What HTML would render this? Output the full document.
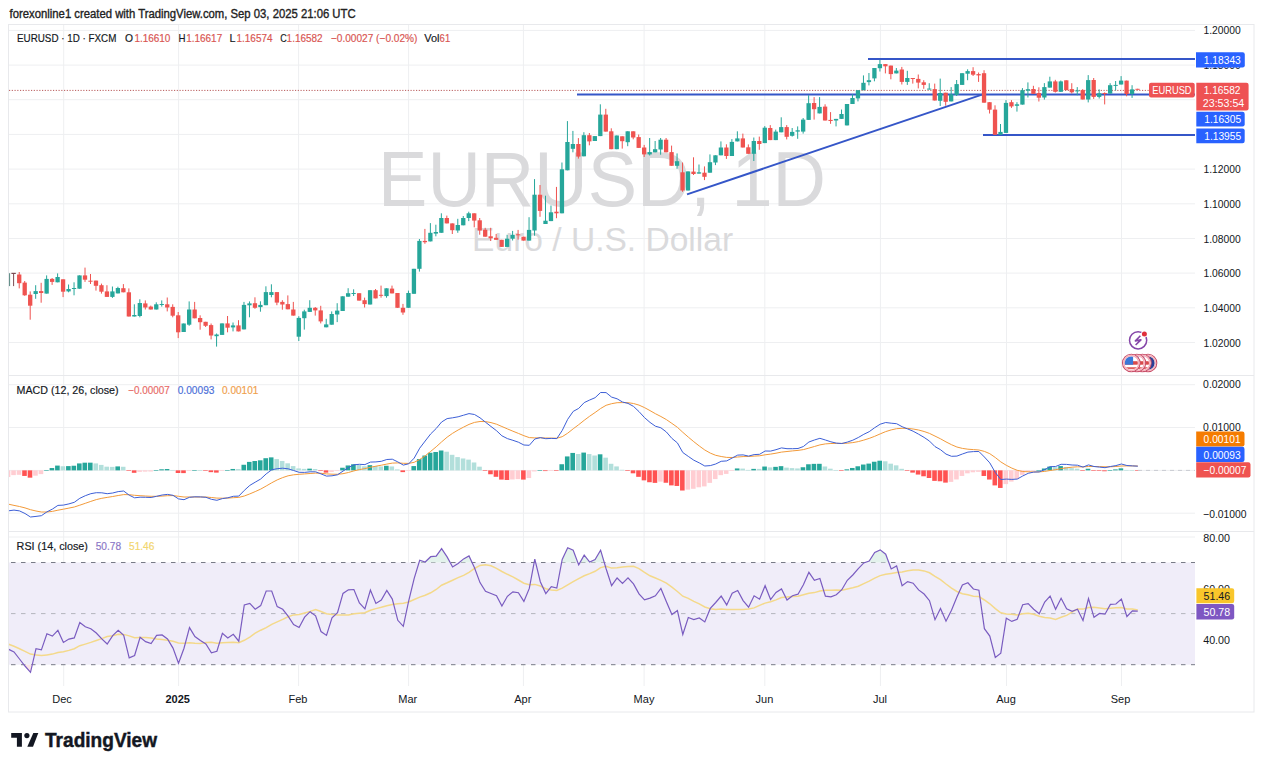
<!DOCTYPE html><html><head><meta charset="utf-8"><title>EURUSD 1D TradingView</title><style>html,body{margin:0;padding:0;background:#fff;overflow:hidden}svg{display:block}</style></head><body>
<svg width="1263" height="768" viewBox="0 0 1263 768" font-family='"Liberation Sans", Arial, sans-serif'>
<rect width="1263" height="768" fill="#ffffff"/>
<defs><clipPath id="cp"><rect x="9" y="24.5" width="1186" height="351.0"/></clipPath>
<clipPath id="cm"><rect x="9" y="375.5" width="1186" height="156.0"/></clipPath>
<clipPath id="cr"><rect x="9" y="531.5" width="1186" height="154.5"/></clipPath></defs>
<line x1="63.7" y1="24.5" x2="63.7" y2="686" stroke="#eeeff1" stroke-width="1"/><line x1="178.6" y1="24.5" x2="178.6" y2="686" stroke="#eeeff1" stroke-width="1"/><line x1="298.6" y1="24.5" x2="298.6" y2="686" stroke="#eeeff1" stroke-width="1"/><line x1="408.6" y1="24.5" x2="408.6" y2="686" stroke="#eeeff1" stroke-width="1"/><line x1="523.4" y1="24.5" x2="523.4" y2="686" stroke="#eeeff1" stroke-width="1"/><line x1="644.1" y1="24.5" x2="644.1" y2="686" stroke="#eeeff1" stroke-width="1"/><line x1="764.8" y1="24.5" x2="764.8" y2="686" stroke="#eeeff1" stroke-width="1"/><line x1="880.4" y1="24.5" x2="880.4" y2="686" stroke="#eeeff1" stroke-width="1"/><line x1="1006.5" y1="24.5" x2="1006.5" y2="686" stroke="#eeeff1" stroke-width="1"/><line x1="1121.5" y1="24.5" x2="1121.5" y2="686" stroke="#eeeff1" stroke-width="1"/><line x1="9" y1="342.5" x2="1195" y2="342.5" stroke="#eeeff1" stroke-width="1"/><line x1="9" y1="307.8" x2="1195" y2="307.8" stroke="#eeeff1" stroke-width="1"/><line x1="9" y1="273.1" x2="1195" y2="273.1" stroke="#eeeff1" stroke-width="1"/><line x1="9" y1="238.5" x2="1195" y2="238.5" stroke="#eeeff1" stroke-width="1"/><line x1="9" y1="203.8" x2="1195" y2="203.8" stroke="#eeeff1" stroke-width="1"/><line x1="9" y1="169.1" x2="1195" y2="169.1" stroke="#eeeff1" stroke-width="1"/><line x1="9" y1="134.4" x2="1195" y2="134.4" stroke="#eeeff1" stroke-width="1"/><line x1="9" y1="99.7" x2="1195" y2="99.7" stroke="#eeeff1" stroke-width="1"/><line x1="9" y1="65.1" x2="1195" y2="65.1" stroke="#eeeff1" stroke-width="1"/><line x1="9" y1="30.4" x2="1195" y2="30.4" stroke="#eeeff1" stroke-width="1"/><line x1="9" y1="384.7" x2="1195" y2="384.7" stroke="#eeeff1" stroke-width="1"/><line x1="9" y1="427.5" x2="1195" y2="427.5" stroke="#eeeff1" stroke-width="1"/><line x1="9" y1="470.4" x2="1195" y2="470.4" stroke="#eeeff1" stroke-width="1"/><line x1="9" y1="513.2" x2="1195" y2="513.2" stroke="#eeeff1" stroke-width="1"/><line x1="9" y1="537.0" x2="1195" y2="537.0" stroke="#eeeff1" stroke-width="1"/><line x1="9" y1="588.1" x2="1195" y2="588.1" stroke="#eeeff1" stroke-width="1"/><line x1="9" y1="639.1" x2="1195" y2="639.1" stroke="#eeeff1" stroke-width="1"/>
<text x="602.05" y="205.5" text-anchor="middle" font-size="77.2" fill="#dadadc" textLength="447.9" lengthAdjust="spacingAndGlyphs">EURUSD, 1D</text>
<text x="602.6" y="250.6" text-anchor="middle" font-size="32.5" fill="#dadadc" textLength="261" lengthAdjust="spacingAndGlyphs">Euro / U.S. Dollar</text>
<line x1="9" y1="90.4" x2="1149" y2="90.4" stroke="#b85a5a" stroke-width="1" stroke-dasharray="1.2 1.55"/>
<line x1="868" y1="59.0" x2="1195" y2="59.0" stroke="#3556c8" stroke-width="2"/>
<line x1="577" y1="94.4" x2="1195" y2="94.4" stroke="#3556c8" stroke-width="2"/>
<line x1="983" y1="135.0" x2="1195" y2="135.0" stroke="#3556c8" stroke-width="2"/>
<line x1="687" y1="194.4" x2="982" y2="94.6" stroke="#3556c8" stroke-width="2"/>
<g clip-path="url(#cp)"><rect x="9.1" y="273.2" width="1" height="12.9" fill="#56857f"/><rect x="11.4" y="272.8" width="4.4" height="1.2" fill="#7c4a52"/><rect x="13.1" y="273.2" width="1" height="12.9" fill="#7c4a52"/><rect x="18.72" y="272.0" width="1" height="16.4" fill="#ef5350"/><rect x="17.07" y="274.5" width="4.3" height="8.7" fill="#ef5350"/><rect x="24.20" y="281.0" width="1" height="14.8" fill="#ef5350"/><rect x="22.55" y="282.6" width="4.3" height="12.7" fill="#ef5350"/><rect x="29.69" y="291.4" width="1" height="28.3" fill="#ef5350"/><rect x="28.04" y="294.7" width="4.3" height="11.0" fill="#ef5350"/><rect x="35.17" y="285.2" width="1" height="13.6" fill="#26a69a"/><rect x="33.52" y="291.1" width="4.3" height="2.9" fill="#26a69a"/><rect x="40.65" y="282.8" width="1" height="19.9" fill="#ef5350"/><rect x="39.00" y="291.1" width="4.3" height="1.9" fill="#ef5350"/><rect x="46.13" y="275.4" width="1" height="18.2" fill="#26a69a"/><rect x="44.48" y="278.9" width="4.3" height="14.7" fill="#26a69a"/><rect x="51.61" y="278.0" width="1" height="6.9" fill="#ef5350"/><rect x="49.96" y="278.9" width="4.3" height="3.0" fill="#ef5350"/><rect x="57.10" y="273.4" width="1" height="8.9" fill="#26a69a"/><rect x="55.45" y="277.0" width="4.3" height="5.3" fill="#26a69a"/><rect x="62.58" y="279.3" width="1" height="17.8" fill="#ef5350"/><rect x="60.93" y="279.3" width="4.3" height="12.4" fill="#ef5350"/><rect x="68.06" y="284.5" width="1" height="7.8" fill="#26a69a"/><rect x="66.41" y="289.0" width="4.3" height="2.4" fill="#26a69a"/><rect x="73.54" y="282.3" width="1" height="13.0" fill="#26a69a"/><rect x="71.89" y="288.0" width="4.3" height="1.0" fill="#26a69a"/><rect x="79.02" y="275.4" width="1" height="13.3" fill="#26a69a"/><rect x="77.37" y="275.4" width="4.3" height="13.3" fill="#26a69a"/><rect x="84.51" y="267.6" width="1" height="14.3" fill="#ef5350"/><rect x="82.86" y="275.4" width="4.3" height="4.3" fill="#ef5350"/><rect x="89.99" y="274.0" width="1" height="10.0" fill="#ef5350"/><rect x="88.34" y="280.7" width="4.3" height="1.0" fill="#ef5350"/><rect x="95.47" y="280.6" width="1" height="10.0" fill="#ef5350"/><rect x="93.82" y="280.6" width="4.3" height="5.2" fill="#ef5350"/><rect x="100.95" y="283.6" width="1" height="10.0" fill="#ef5350"/><rect x="99.30" y="285.2" width="4.3" height="6.5" fill="#ef5350"/><rect x="106.43" y="285.2" width="1" height="11.7" fill="#ef5350"/><rect x="104.78" y="291.4" width="4.3" height="5.5" fill="#ef5350"/><rect x="111.92" y="286.5" width="1" height="11.4" fill="#26a69a"/><rect x="110.27" y="291.4" width="4.3" height="5.5" fill="#26a69a"/><rect x="117.40" y="286.7" width="1" height="6.7" fill="#26a69a"/><rect x="115.75" y="288.0" width="4.3" height="5.4" fill="#26a69a"/><rect x="122.88" y="284.1" width="1" height="8.2" fill="#ef5350"/><rect x="121.23" y="288.2" width="4.3" height="4.1" fill="#ef5350"/><rect x="128.36" y="288.4" width="1" height="28.1" fill="#ef5350"/><rect x="126.71" y="292.3" width="4.3" height="24.2" fill="#ef5350"/><rect x="133.84" y="304.3" width="1" height="12.2" fill="#26a69a"/><rect x="132.19" y="315.0" width="4.3" height="1.5" fill="#26a69a"/><rect x="139.33" y="299.3" width="1" height="18.0" fill="#26a69a"/><rect x="137.68" y="303.0" width="4.3" height="13.0" fill="#26a69a"/><rect x="144.81" y="300.4" width="1" height="9.1" fill="#ef5350"/><rect x="143.16" y="303.4" width="4.3" height="4.1" fill="#ef5350"/><rect x="150.29" y="305.6" width="1" height="3.9" fill="#ef5350"/><rect x="148.64" y="306.6" width="4.3" height="2.9" fill="#ef5350"/><rect x="155.77" y="302.3" width="1" height="7.2" fill="#26a69a"/><rect x="154.12" y="304.3" width="4.3" height="5.2" fill="#26a69a"/><rect x="161.25" y="300.4" width="1" height="6.2" fill="#26a69a"/><rect x="159.60" y="304.0" width="4.3" height="1.0" fill="#26a69a"/><rect x="166.74" y="297.5" width="1" height="13.9" fill="#ef5350"/><rect x="165.09" y="304.3" width="4.3" height="3.2" fill="#ef5350"/><rect x="172.22" y="304.3" width="1" height="13.0" fill="#ef5350"/><rect x="170.57" y="306.9" width="4.3" height="8.8" fill="#ef5350"/><rect x="177.70" y="312.0" width="1" height="26.1" fill="#ef5350"/><rect x="176.05" y="315.3" width="4.3" height="17.0" fill="#ef5350"/><rect x="183.18" y="323.5" width="1" height="8.5" fill="#26a69a"/><rect x="181.53" y="323.5" width="4.3" height="8.5" fill="#26a69a"/><rect x="188.66" y="301.4" width="1" height="24.4" fill="#26a69a"/><rect x="187.01" y="309.5" width="4.3" height="15.2" fill="#26a69a"/><rect x="194.15" y="301.9" width="1" height="16.4" fill="#ef5350"/><rect x="192.50" y="309.5" width="4.3" height="8.8" fill="#ef5350"/><rect x="199.63" y="315.3" width="1" height="14.4" fill="#ef5350"/><rect x="197.98" y="318.0" width="4.3" height="4.2" fill="#ef5350"/><rect x="205.11" y="321.8" width="1" height="5.2" fill="#ef5350"/><rect x="203.46" y="321.8" width="4.3" height="4.0" fill="#ef5350"/><rect x="210.59" y="323.5" width="1" height="15.9" fill="#ef5350"/><rect x="208.94" y="325.1" width="4.3" height="10.4" fill="#ef5350"/><rect x="216.07" y="333.5" width="1" height="13.1" fill="#26a69a"/><rect x="214.42" y="334.5" width="4.3" height="1.7" fill="#26a69a"/><rect x="221.56" y="323.4" width="1" height="11.5" fill="#26a69a"/><rect x="219.91" y="323.4" width="4.3" height="11.5" fill="#26a69a"/><rect x="227.04" y="316.0" width="1" height="16.3" fill="#ef5350"/><rect x="225.39" y="323.4" width="4.3" height="4.3" fill="#ef5350"/><rect x="232.52" y="322.5" width="1" height="8.9" fill="#26a69a"/><rect x="230.87" y="325.4" width="4.3" height="2.0" fill="#26a69a"/><rect x="238.00" y="320.2" width="1" height="11.2" fill="#ef5350"/><rect x="236.35" y="325.4" width="4.3" height="6.0" fill="#ef5350"/><rect x="243.48" y="301.9" width="1" height="27.5" fill="#26a69a"/><rect x="241.83" y="304.9" width="4.3" height="24.5" fill="#26a69a"/><rect x="248.97" y="301.4" width="1" height="15.9" fill="#26a69a"/><rect x="247.32" y="303.4" width="4.3" height="1.9" fill="#26a69a"/><rect x="254.45" y="297.3" width="1" height="11.5" fill="#ef5350"/><rect x="252.80" y="303.2" width="4.3" height="4.6" fill="#ef5350"/><rect x="259.93" y="301.3" width="1" height="10.4" fill="#26a69a"/><rect x="258.28" y="304.9" width="4.3" height="2.2" fill="#26a69a"/><rect x="265.41" y="286.3" width="1" height="18.9" fill="#26a69a"/><rect x="263.76" y="292.1" width="4.3" height="13.1" fill="#26a69a"/><rect x="270.89" y="284.3" width="1" height="13.0" fill="#26a69a"/><rect x="269.24" y="292.1" width="4.3" height="2.9" fill="#26a69a"/><rect x="276.38" y="292.1" width="1" height="13.1" fill="#ef5350"/><rect x="274.73" y="292.1" width="4.3" height="10.5" fill="#ef5350"/><rect x="281.86" y="300.2" width="1" height="9.5" fill="#ef5350"/><rect x="280.21" y="301.9" width="4.3" height="2.6" fill="#ef5350"/><rect x="287.34" y="295.4" width="1" height="13.9" fill="#ef5350"/><rect x="285.69" y="304.1" width="4.3" height="5.2" fill="#ef5350"/><rect x="292.82" y="301.9" width="1" height="13.7" fill="#ef5350"/><rect x="291.17" y="309.5" width="4.3" height="6.1" fill="#ef5350"/><rect x="298.30" y="316.2" width="1" height="24.8" fill="#26a69a"/><rect x="296.65" y="317.9" width="4.3" height="18.8" fill="#26a69a"/><rect x="303.79" y="309.7" width="1" height="19.9" fill="#26a69a"/><rect x="302.14" y="311.4" width="4.3" height="6.8" fill="#26a69a"/><rect x="309.27" y="300.2" width="1" height="11.7" fill="#26a69a"/><rect x="307.62" y="307.8" width="4.3" height="4.1" fill="#26a69a"/><rect x="314.75" y="307.0" width="1" height="8.6" fill="#ef5350"/><rect x="313.10" y="307.8" width="4.3" height="2.6" fill="#ef5350"/><rect x="320.23" y="305.8" width="1" height="17.6" fill="#ef5350"/><rect x="318.58" y="310.4" width="4.3" height="11.0" fill="#ef5350"/><rect x="325.71" y="318.8" width="1" height="8.5" fill="#26a69a"/><rect x="324.06" y="324.4" width="4.3" height="2.9" fill="#26a69a"/><rect x="331.20" y="311.4" width="1" height="13.3" fill="#26a69a"/><rect x="329.55" y="314.0" width="4.3" height="10.7" fill="#26a69a"/><rect x="336.68" y="303.2" width="1" height="18.9" fill="#26a69a"/><rect x="335.03" y="310.6" width="4.3" height="3.9" fill="#26a69a"/><rect x="342.16" y="296.3" width="1" height="14.7" fill="#26a69a"/><rect x="340.51" y="296.3" width="4.3" height="14.7" fill="#26a69a"/><rect x="347.64" y="288.2" width="1" height="8.5" fill="#26a69a"/><rect x="345.99" y="293.2" width="4.3" height="3.5" fill="#26a69a"/><rect x="353.12" y="289.3" width="1" height="6.7" fill="#26a69a"/><rect x="351.47" y="293.0" width="4.3" height="1.0" fill="#26a69a"/><rect x="358.61" y="293.2" width="1" height="7.4" fill="#ef5350"/><rect x="356.96" y="293.2" width="4.3" height="7.4" fill="#ef5350"/><rect x="364.09" y="297.6" width="1" height="9.9" fill="#ef5350"/><rect x="362.44" y="300.2" width="4.3" height="3.9" fill="#ef5350"/><rect x="369.57" y="290.2" width="1" height="14.3" fill="#26a69a"/><rect x="367.92" y="290.2" width="4.3" height="14.3" fill="#26a69a"/><rect x="375.05" y="289.0" width="1" height="9.4" fill="#ef5350"/><rect x="373.40" y="290.2" width="4.3" height="8.2" fill="#ef5350"/><rect x="380.53" y="285.6" width="1" height="12.1" fill="#ef5350"/><rect x="378.88" y="294.8" width="4.3" height="1.0" fill="#ef5350"/><rect x="386.02" y="288.3" width="1" height="9.4" fill="#26a69a"/><rect x="384.37" y="288.3" width="4.3" height="7.8" fill="#26a69a"/><rect x="391.50" y="285.6" width="1" height="7.8" fill="#ef5350"/><rect x="389.85" y="288.6" width="4.3" height="4.8" fill="#ef5350"/><rect x="396.98" y="293.0" width="1" height="14.8" fill="#ef5350"/><rect x="395.33" y="293.0" width="4.3" height="14.8" fill="#ef5350"/><rect x="402.46" y="303.9" width="1" height="10.9" fill="#ef5350"/><rect x="400.81" y="307.8" width="4.3" height="4.7" fill="#ef5350"/><rect x="407.94" y="290.6" width="1" height="17.2" fill="#26a69a"/><rect x="406.29" y="293.0" width="4.3" height="14.8" fill="#26a69a"/><rect x="413.43" y="268.8" width="1" height="25.0" fill="#26a69a"/><rect x="411.78" y="268.8" width="4.3" height="25.0" fill="#26a69a"/><rect x="418.91" y="239.0" width="1" height="32.6" fill="#26a69a"/><rect x="417.26" y="240.9" width="4.3" height="27.9" fill="#26a69a"/><rect x="424.39" y="228.9" width="1" height="14.9" fill="#ef5350"/><rect x="422.74" y="240.9" width="4.3" height="1.3" fill="#ef5350"/><rect x="429.87" y="223.1" width="1" height="18.3" fill="#26a69a"/><rect x="428.22" y="232.8" width="4.3" height="8.6" fill="#26a69a"/><rect x="435.35" y="224.7" width="1" height="11.6" fill="#26a69a"/><rect x="433.70" y="232.0" width="4.3" height="1.6" fill="#26a69a"/><rect x="440.84" y="213.3" width="1" height="19.5" fill="#26a69a"/><rect x="439.19" y="218.0" width="4.3" height="14.8" fill="#26a69a"/><rect x="446.32" y="215.6" width="1" height="7.8" fill="#ef5350"/><rect x="444.67" y="218.0" width="4.3" height="5.4" fill="#ef5350"/><rect x="451.80" y="223.4" width="1" height="10.6" fill="#ef5350"/><rect x="450.15" y="223.4" width="4.3" height="6.8" fill="#ef5350"/><rect x="457.28" y="218.8" width="1" height="14.0" fill="#26a69a"/><rect x="455.63" y="225.0" width="4.3" height="5.5" fill="#26a69a"/><rect x="462.76" y="216.0" width="1" height="9.3" fill="#26a69a"/><rect x="461.11" y="218.0" width="4.3" height="7.3" fill="#26a69a"/><rect x="468.25" y="211.7" width="1" height="9.4" fill="#26a69a"/><rect x="466.60" y="213.3" width="4.3" height="4.7" fill="#26a69a"/><rect x="473.73" y="213.3" width="1" height="14.0" fill="#ef5350"/><rect x="472.08" y="213.3" width="4.3" height="7.3" fill="#ef5350"/><rect x="479.21" y="218.0" width="1" height="16.7" fill="#ef5350"/><rect x="477.56" y="220.3" width="4.3" height="10.2" fill="#ef5350"/><rect x="484.69" y="227.8" width="1" height="8.9" fill="#ef5350"/><rect x="483.04" y="229.7" width="4.3" height="7.0" fill="#ef5350"/><rect x="490.17" y="227.8" width="1" height="13.2" fill="#ef5350"/><rect x="488.52" y="236.3" width="4.3" height="2.0" fill="#ef5350"/><rect x="495.66" y="234.0" width="1" height="5.8" fill="#ef5350"/><rect x="494.01" y="237.8" width="4.3" height="2.0" fill="#ef5350"/><rect x="501.14" y="239.8" width="1" height="7.1" fill="#ef5350"/><rect x="499.49" y="239.8" width="4.3" height="7.1" fill="#ef5350"/><rect x="506.62" y="234.8" width="1" height="12.1" fill="#26a69a"/><rect x="504.97" y="238.7" width="4.3" height="8.2" fill="#26a69a"/><rect x="512.10" y="230.9" width="1" height="9.6" fill="#26a69a"/><rect x="510.45" y="234.8" width="4.3" height="3.9" fill="#26a69a"/><rect x="517.58" y="229.9" width="1" height="9.7" fill="#ef5350"/><rect x="515.93" y="234.3" width="4.3" height="1.0" fill="#ef5350"/><rect x="523.07" y="236.7" width="1" height="3.9" fill="#ef5350"/><rect x="521.42" y="236.7" width="4.3" height="3.9" fill="#ef5350"/><rect x="528.55" y="217.2" width="1" height="23.4" fill="#26a69a"/><rect x="526.90" y="229.9" width="4.3" height="10.7" fill="#26a69a"/><rect x="534.03" y="179.1" width="1" height="56.6" fill="#26a69a"/><rect x="532.38" y="194.7" width="4.3" height="35.8" fill="#26a69a"/><rect x="539.51" y="185.0" width="1" height="31.8" fill="#ef5350"/><rect x="537.86" y="194.7" width="4.3" height="16.2" fill="#ef5350"/><rect x="544.99" y="195.7" width="1" height="28.3" fill="#26a69a"/><rect x="543.34" y="220.7" width="4.3" height="3.3" fill="#26a69a"/><rect x="550.48" y="205.5" width="1" height="15.6" fill="#26a69a"/><rect x="548.83" y="212.3" width="4.3" height="8.8" fill="#26a69a"/><rect x="555.96" y="186.9" width="1" height="31.3" fill="#ef5350"/><rect x="554.31" y="211.7" width="4.3" height="1.6" fill="#ef5350"/><rect x="561.44" y="162.5" width="1" height="50.8" fill="#26a69a"/><rect x="559.79" y="169.3" width="4.3" height="44.0" fill="#26a69a"/><rect x="566.92" y="121.1" width="1" height="49.2" fill="#26a69a"/><rect x="565.27" y="142.0" width="4.3" height="28.3" fill="#26a69a"/><rect x="572.40" y="130.9" width="1" height="21.4" fill="#26a69a"/><rect x="570.75" y="144.0" width="4.3" height="4.8" fill="#26a69a"/><rect x="577.89" y="138.1" width="1" height="20.5" fill="#ef5350"/><rect x="576.24" y="144.0" width="4.3" height="12.6" fill="#ef5350"/><rect x="583.37" y="132.2" width="1" height="24.1" fill="#26a69a"/><rect x="581.72" y="135.2" width="4.3" height="21.1" fill="#26a69a"/><rect x="588.85" y="133.0" width="1" height="12.3" fill="#ef5350"/><rect x="587.20" y="135.2" width="4.3" height="6.2" fill="#ef5350"/><rect x="594.33" y="136.1" width="1" height="4.9" fill="#26a69a"/><rect x="592.68" y="136.1" width="4.3" height="4.9" fill="#26a69a"/><rect x="599.81" y="104.3" width="1" height="31.8" fill="#26a69a"/><rect x="598.16" y="114.6" width="4.3" height="21.5" fill="#26a69a"/><rect x="605.30" y="108.8" width="1" height="22.8" fill="#ef5350"/><rect x="603.65" y="114.6" width="4.3" height="17.0" fill="#ef5350"/><rect x="610.78" y="128.3" width="1" height="20.9" fill="#ef5350"/><rect x="609.13" y="131.3" width="4.3" height="17.9" fill="#ef5350"/><rect x="616.26" y="135.5" width="1" height="13.7" fill="#26a69a"/><rect x="614.61" y="135.5" width="4.3" height="13.7" fill="#26a69a"/><rect x="621.74" y="136.3" width="1" height="12.3" fill="#ef5350"/><rect x="620.09" y="136.3" width="4.3" height="4.9" fill="#ef5350"/><rect x="627.22" y="131.3" width="1" height="14.9" fill="#26a69a"/><rect x="625.57" y="131.3" width="4.3" height="10.9" fill="#26a69a"/><rect x="632.71" y="131.3" width="1" height="8.0" fill="#ef5350"/><rect x="631.06" y="131.3" width="4.3" height="6.2" fill="#ef5350"/><rect x="638.19" y="134.5" width="1" height="13.4" fill="#ef5350"/><rect x="636.54" y="137.1" width="4.3" height="10.8" fill="#ef5350"/><rect x="643.67" y="144.9" width="1" height="12.1" fill="#ef5350"/><rect x="642.02" y="147.5" width="4.3" height="6.9" fill="#ef5350"/><rect x="649.15" y="138.0" width="1" height="17.5" fill="#26a69a"/><rect x="647.50" y="152.1" width="4.3" height="2.3" fill="#26a69a"/><rect x="654.63" y="141.0" width="1" height="11.3" fill="#26a69a"/><rect x="652.98" y="149.2" width="4.3" height="3.1" fill="#26a69a"/><rect x="660.12" y="138.0" width="1" height="16.7" fill="#26a69a"/><rect x="658.47" y="139.7" width="4.3" height="9.8" fill="#26a69a"/><rect x="665.60" y="138.0" width="1" height="14.3" fill="#ef5350"/><rect x="663.95" y="139.7" width="4.3" height="12.6" fill="#ef5350"/><rect x="671.08" y="145.6" width="1" height="20.2" fill="#ef5350"/><rect x="669.43" y="152.1" width="4.3" height="13.7" fill="#ef5350"/><rect x="676.56" y="153.4" width="1" height="15.4" fill="#26a69a"/><rect x="674.91" y="161.2" width="4.3" height="4.6" fill="#26a69a"/><rect x="682.04" y="162.5" width="1" height="29.3" fill="#ef5350"/><rect x="680.39" y="172.3" width="4.3" height="18.2" fill="#ef5350"/><rect x="687.53" y="171.4" width="1" height="19.1" fill="#26a69a"/><rect x="685.88" y="171.4" width="4.3" height="19.1" fill="#26a69a"/><rect x="693.01" y="157.3" width="1" height="17.7" fill="#ef5350"/><rect x="691.36" y="171.6" width="4.3" height="2.4" fill="#ef5350"/><rect x="698.49" y="164.5" width="1" height="9.1" fill="#26a69a"/><rect x="696.84" y="172.3" width="4.3" height="1.3" fill="#26a69a"/><rect x="703.97" y="166.4" width="1" height="13.7" fill="#ef5350"/><rect x="702.32" y="172.7" width="4.3" height="4.1" fill="#ef5350"/><rect x="709.45" y="154.4" width="1" height="18.3" fill="#26a69a"/><rect x="707.80" y="162.2" width="4.3" height="10.5" fill="#26a69a"/><rect x="714.94" y="155.3" width="1" height="9.8" fill="#26a69a"/><rect x="713.29" y="155.3" width="4.3" height="7.2" fill="#26a69a"/><rect x="720.42" y="141.4" width="1" height="13.9" fill="#26a69a"/><rect x="718.77" y="147.5" width="4.3" height="7.8" fill="#26a69a"/><rect x="725.90" y="144.3" width="1" height="14.6" fill="#ef5350"/><rect x="724.25" y="147.5" width="4.3" height="8.5" fill="#ef5350"/><rect x="731.38" y="139.1" width="1" height="16.9" fill="#26a69a"/><rect x="729.73" y="141.9" width="4.3" height="14.1" fill="#26a69a"/><rect x="736.86" y="131.3" width="1" height="10.1" fill="#26a69a"/><rect x="735.21" y="138.4" width="4.3" height="3.0" fill="#26a69a"/><rect x="742.35" y="133.6" width="1" height="13.9" fill="#ef5350"/><rect x="740.70" y="138.4" width="4.3" height="9.1" fill="#ef5350"/><rect x="747.83" y="144.4" width="1" height="9.4" fill="#ef5350"/><rect x="746.18" y="147.3" width="4.3" height="6.5" fill="#ef5350"/><rect x="753.31" y="137.5" width="1" height="23.5" fill="#26a69a"/><rect x="751.66" y="141.0" width="4.3" height="12.8" fill="#26a69a"/><rect x="758.79" y="136.6" width="1" height="13.2" fill="#ef5350"/><rect x="757.14" y="141.0" width="4.3" height="3.0" fill="#ef5350"/><rect x="764.27" y="126.1" width="1" height="17.0" fill="#26a69a"/><rect x="762.62" y="127.7" width="4.3" height="15.4" fill="#26a69a"/><rect x="769.76" y="125.1" width="1" height="15.0" fill="#ef5350"/><rect x="768.11" y="128.0" width="4.3" height="12.1" fill="#ef5350"/><rect x="775.24" y="129.6" width="1" height="10.5" fill="#26a69a"/><rect x="773.59" y="131.6" width="4.3" height="8.5" fill="#26a69a"/><rect x="780.72" y="117.3" width="1" height="15.0" fill="#26a69a"/><rect x="779.07" y="127.1" width="4.3" height="5.2" fill="#26a69a"/><rect x="786.20" y="125.1" width="1" height="14.3" fill="#ef5350"/><rect x="784.55" y="127.1" width="4.3" height="9.7" fill="#ef5350"/><rect x="791.68" y="128.0" width="1" height="8.6" fill="#26a69a"/><rect x="790.03" y="131.9" width="4.3" height="3.9" fill="#26a69a"/><rect x="797.17" y="126.4" width="1" height="12.4" fill="#26a69a"/><rect x="795.52" y="130.3" width="4.3" height="1.3" fill="#26a69a"/><rect x="802.65" y="118.0" width="1" height="15.6" fill="#26a69a"/><rect x="801.00" y="119.6" width="4.3" height="12.0" fill="#26a69a"/><rect x="808.13" y="95.2" width="1" height="24.7" fill="#26a69a"/><rect x="806.48" y="103.2" width="4.3" height="16.7" fill="#26a69a"/><rect x="813.61" y="97.1" width="1" height="22.5" fill="#ef5350"/><rect x="811.96" y="103.0" width="4.3" height="6.2" fill="#ef5350"/><rect x="819.09" y="97.1" width="1" height="16.3" fill="#26a69a"/><rect x="817.44" y="106.9" width="4.3" height="6.5" fill="#26a69a"/><rect x="824.58" y="104.3" width="1" height="16.2" fill="#ef5350"/><rect x="822.93" y="106.6" width="4.3" height="13.9" fill="#ef5350"/><rect x="830.06" y="112.1" width="1" height="11.7" fill="#ef5350"/><rect x="828.41" y="119.9" width="4.3" height="1.1" fill="#ef5350"/><rect x="835.54" y="118.9" width="1" height="7.5" fill="#26a69a"/><rect x="833.89" y="118.9" width="4.3" height="1.6" fill="#26a69a"/><rect x="841.02" y="109.5" width="1" height="9.4" fill="#26a69a"/><rect x="839.37" y="114.0" width="4.3" height="4.9" fill="#26a69a"/><rect x="846.50" y="104.0" width="1" height="21.4" fill="#26a69a"/><rect x="844.85" y="104.0" width="4.3" height="21.4" fill="#26a69a"/><rect x="851.99" y="94.1" width="1" height="9.9" fill="#26a69a"/><rect x="850.34" y="98.0" width="4.3" height="6.0" fill="#26a69a"/><rect x="857.47" y="90.2" width="1" height="11.2" fill="#26a69a"/><rect x="855.82" y="90.2" width="4.3" height="8.2" fill="#26a69a"/><rect x="862.95" y="75.4" width="1" height="14.8" fill="#26a69a"/><rect x="861.30" y="82.8" width="4.3" height="7.4" fill="#26a69a"/><rect x="868.43" y="73.0" width="1" height="12.4" fill="#26a69a"/><rect x="866.78" y="80.2" width="4.3" height="1.9" fill="#26a69a"/><rect x="873.91" y="68.0" width="1" height="13.3" fill="#26a69a"/><rect x="872.26" y="68.0" width="4.3" height="10.4" fill="#26a69a"/><rect x="879.40" y="59.8" width="1" height="11.7" fill="#26a69a"/><rect x="877.75" y="64.1" width="4.3" height="4.1" fill="#26a69a"/><rect x="884.88" y="64.1" width="1" height="9.3" fill="#ef5350"/><rect x="883.23" y="64.1" width="4.3" height="2.2" fill="#ef5350"/><rect x="890.36" y="65.6" width="1" height="13.7" fill="#ef5350"/><rect x="888.71" y="65.6" width="4.3" height="8.5" fill="#ef5350"/><rect x="895.84" y="68.0" width="1" height="5.4" fill="#26a69a"/><rect x="894.19" y="70.6" width="4.3" height="2.8" fill="#26a69a"/><rect x="901.32" y="66.9" width="1" height="17.6" fill="#ef5350"/><rect x="899.67" y="69.5" width="4.3" height="12.4" fill="#ef5350"/><rect x="906.81" y="70.8" width="1" height="14.1" fill="#26a69a"/><rect x="905.16" y="78.0" width="4.3" height="3.9" fill="#26a69a"/><rect x="912.29" y="78.0" width="1" height="5.6" fill="#ef5350"/><rect x="910.64" y="78.0" width="4.3" height="1.0" fill="#ef5350"/><rect x="917.77" y="74.5" width="1" height="13.9" fill="#ef5350"/><rect x="916.12" y="78.9" width="4.3" height="3.7" fill="#ef5350"/><rect x="923.25" y="80.2" width="1" height="8.6" fill="#ef5350"/><rect x="921.60" y="82.3" width="4.3" height="2.6" fill="#ef5350"/><rect x="928.73" y="83.2" width="1" height="6.1" fill="#26a69a"/><rect x="927.08" y="88.6" width="4.3" height="1.0" fill="#26a69a"/><rect x="934.22" y="83.6" width="1" height="16.9" fill="#ef5350"/><rect x="932.57" y="89.1" width="4.3" height="11.4" fill="#ef5350"/><rect x="939.70" y="78.6" width="1" height="27.4" fill="#26a69a"/><rect x="938.05" y="93.0" width="4.3" height="7.8" fill="#26a69a"/><rect x="945.18" y="92.7" width="1" height="13.0" fill="#ef5350"/><rect x="943.53" y="92.7" width="4.3" height="9.1" fill="#ef5350"/><rect x="950.66" y="87.1" width="1" height="14.3" fill="#26a69a"/><rect x="949.01" y="94.3" width="4.3" height="7.1" fill="#26a69a"/><rect x="956.14" y="80.0" width="1" height="16.0" fill="#26a69a"/><rect x="954.49" y="84.1" width="4.3" height="10.8" fill="#26a69a"/><rect x="961.63" y="73.2" width="1" height="11.7" fill="#26a69a"/><rect x="959.98" y="73.2" width="4.3" height="11.7" fill="#26a69a"/><rect x="967.11" y="69.3" width="1" height="10.9" fill="#26a69a"/><rect x="965.46" y="71.1" width="4.3" height="2.6" fill="#26a69a"/><rect x="972.59" y="67.2" width="1" height="8.8" fill="#ef5350"/><rect x="970.94" y="71.1" width="4.3" height="3.6" fill="#ef5350"/><rect x="978.07" y="72.5" width="1" height="9.4" fill="#ef5350"/><rect x="976.42" y="74.1" width="4.3" height="1.3" fill="#ef5350"/><rect x="983.55" y="70.2" width="1" height="32.5" fill="#ef5350"/><rect x="981.90" y="73.2" width="4.3" height="29.5" fill="#ef5350"/><rect x="989.04" y="102.2" width="1" height="11.3" fill="#ef5350"/><rect x="987.39" y="102.2" width="4.3" height="7.5" fill="#ef5350"/><rect x="994.52" y="105.3" width="1" height="29.5" fill="#ef5350"/><rect x="992.87" y="109.6" width="4.3" height="25.2" fill="#ef5350"/><rect x="1000.00" y="124.0" width="1" height="10.8" fill="#26a69a"/><rect x="998.35" y="131.9" width="4.3" height="2.9" fill="#26a69a"/><rect x="1005.48" y="100.1" width="1" height="32.8" fill="#26a69a"/><rect x="1003.83" y="102.9" width="4.3" height="30.0" fill="#26a69a"/><rect x="1010.96" y="100.1" width="1" height="7.8" fill="#ef5350"/><rect x="1009.31" y="102.2" width="4.3" height="4.2" fill="#ef5350"/><rect x="1016.45" y="102.2" width="1" height="9.4" fill="#26a69a"/><rect x="1014.80" y="104.3" width="4.3" height="1.5" fill="#26a69a"/><rect x="1021.93" y="88.1" width="1" height="16.5" fill="#26a69a"/><rect x="1020.28" y="90.2" width="4.3" height="14.4" fill="#26a69a"/><rect x="1027.41" y="82.4" width="1" height="15.1" fill="#26a69a"/><rect x="1025.76" y="89.2" width="4.3" height="1.5" fill="#26a69a"/><rect x="1032.89" y="85.8" width="1" height="8.1" fill="#ef5350"/><rect x="1031.24" y="89.0" width="4.3" height="4.9" fill="#ef5350"/><rect x="1038.37" y="87.3" width="1" height="14.2" fill="#ef5350"/><rect x="1036.72" y="93.1" width="4.3" height="4.6" fill="#ef5350"/><rect x="1043.86" y="83.1" width="1" height="16.5" fill="#26a69a"/><rect x="1042.21" y="87.1" width="4.3" height="10.4" fill="#26a69a"/><rect x="1049.34" y="76.7" width="1" height="10.9" fill="#26a69a"/><rect x="1047.69" y="81.4" width="4.3" height="6.2" fill="#26a69a"/><rect x="1054.82" y="79.8" width="1" height="12.7" fill="#ef5350"/><rect x="1053.17" y="81.4" width="4.3" height="10.4" fill="#ef5350"/><rect x="1060.30" y="80.5" width="1" height="11.3" fill="#26a69a"/><rect x="1058.65" y="81.4" width="4.3" height="10.4" fill="#26a69a"/><rect x="1065.78" y="80.3" width="1" height="9.8" fill="#ef5350"/><rect x="1064.13" y="80.3" width="4.3" height="9.8" fill="#ef5350"/><rect x="1071.27" y="83.2" width="1" height="10.3" fill="#ef5350"/><rect x="1069.62" y="89.1" width="4.3" height="3.2" fill="#ef5350"/><rect x="1076.75" y="87.1" width="1" height="8.2" fill="#26a69a"/><rect x="1075.10" y="90.4" width="4.3" height="1.0" fill="#26a69a"/><rect x="1082.23" y="89.1" width="1" height="10.4" fill="#ef5350"/><rect x="1080.58" y="90.1" width="4.3" height="9.4" fill="#ef5350"/><rect x="1087.71" y="75.1" width="1" height="27.3" fill="#26a69a"/><rect x="1086.06" y="80.1" width="4.3" height="19.4" fill="#26a69a"/><rect x="1093.19" y="78.0" width="1" height="20.9" fill="#ef5350"/><rect x="1091.54" y="80.0" width="4.3" height="16.9" fill="#ef5350"/><rect x="1098.68" y="89.4" width="1" height="9.1" fill="#26a69a"/><rect x="1097.03" y="93.3" width="4.3" height="3.6" fill="#26a69a"/><rect x="1104.16" y="92.3" width="1" height="12.1" fill="#ef5350"/><rect x="1102.51" y="93.0" width="4.3" height="1.0" fill="#ef5350"/><rect x="1109.64" y="83.2" width="1" height="10.4" fill="#26a69a"/><rect x="1107.99" y="85.2" width="4.3" height="8.4" fill="#26a69a"/><rect x="1115.12" y="81.0" width="1" height="9.4" fill="#26a69a"/><rect x="1113.47" y="84.9" width="4.3" height="1.0" fill="#26a69a"/><rect x="1120.60" y="76.1" width="1" height="8.4" fill="#26a69a"/><rect x="1118.95" y="80.6" width="4.3" height="3.9" fill="#26a69a"/><rect x="1126.09" y="80.6" width="1" height="15.7" fill="#ef5350"/><rect x="1124.44" y="80.6" width="4.3" height="13.4" fill="#ef5350"/><rect x="1131.57" y="85.2" width="1" height="12.7" fill="#26a69a"/><rect x="1129.92" y="89.4" width="4.3" height="4.6" fill="#26a69a"/><rect x="1137.05" y="88.8" width="1" height="0.8" fill="#ef5350"/><rect x="1135.40" y="88.8" width="4.3" height="1.0" fill="#ef5350"/></g>
<g clip-path="url(#cm)"><rect x="5.76" y="470.35" width="4.6" height="6.69" fill="#ffcdd2"/><rect x="11.24" y="470.35" width="4.6" height="4.77" fill="#ffcdd2"/><rect x="16.72" y="470.35" width="4.6" height="4.45" fill="#ffcdd2"/><rect x="22.20" y="470.35" width="4.6" height="5.59" fill="#ff5252"/><rect x="27.69" y="470.35" width="4.6" height="7.32" fill="#ff5252"/><rect x="33.17" y="470.35" width="4.6" height="5.35" fill="#ffcdd2"/><rect x="38.65" y="470.35" width="4.6" height="3.77" fill="#ffcdd2"/><rect x="44.13" y="470.33" width="4.6" height="0.60" fill="#26a69a"/><rect x="49.61" y="468.04" width="4.6" height="2.31" fill="#26a69a"/><rect x="55.10" y="465.59" width="4.6" height="4.76" fill="#26a69a"/><rect x="60.58" y="466.25" width="4.6" height="4.10" fill="#b2dfdb"/><rect x="66.06" y="466.10" width="4.6" height="4.25" fill="#26a69a"/><rect x="71.54" y="465.73" width="4.6" height="4.62" fill="#26a69a"/><rect x="77.02" y="463.42" width="4.6" height="6.93" fill="#26a69a"/><rect x="82.51" y="462.69" width="4.6" height="7.66" fill="#26a69a"/><rect x="87.99" y="462.66" width="4.6" height="7.69" fill="#26a69a"/><rect x="93.47" y="463.40" width="4.6" height="6.95" fill="#b2dfdb"/><rect x="98.95" y="464.89" width="4.6" height="5.46" fill="#b2dfdb"/><rect x="104.43" y="466.68" width="4.6" height="3.67" fill="#b2dfdb"/><rect x="109.92" y="466.88" width="4.6" height="3.47" fill="#b2dfdb"/><rect x="115.40" y="466.41" width="4.6" height="3.94" fill="#26a69a"/><rect x="120.88" y="466.77" width="4.6" height="3.58" fill="#b2dfdb"/><rect x="126.36" y="470.35" width="4.6" height="0.60" fill="#ff5252"/><rect x="131.84" y="470.35" width="4.6" height="2.46" fill="#ff5252"/><rect x="137.33" y="470.35" width="4.6" height="1.49" fill="#ffcdd2"/><rect x="142.81" y="470.35" width="4.6" height="1.28" fill="#ffcdd2"/><rect x="148.29" y="470.35" width="4.6" height="1.16" fill="#ffcdd2"/><rect x="153.77" y="470.32" width="4.6" height="0.60" fill="#26a69a"/><rect x="159.25" y="469.29" width="4.6" height="1.06" fill="#26a69a"/><rect x="164.74" y="469.02" width="4.6" height="1.33" fill="#26a69a"/><rect x="170.22" y="469.98" width="4.6" height="0.60" fill="#b2dfdb"/><rect x="175.70" y="470.35" width="4.6" height="2.64" fill="#ff5252"/><rect x="181.18" y="470.35" width="4.6" height="2.76" fill="#ff5252"/><rect x="186.66" y="470.35" width="4.6" height="0.60" fill="#ffcdd2"/><rect x="192.15" y="470.15" width="4.6" height="0.60" fill="#26a69a"/><rect x="197.63" y="470.25" width="4.6" height="0.60" fill="#b2dfdb"/><rect x="203.11" y="470.35" width="4.6" height="0.60" fill="#ff5252"/><rect x="208.59" y="470.35" width="4.6" height="1.81" fill="#ff5252"/><rect x="214.07" y="470.35" width="4.6" height="2.27" fill="#ff5252"/><rect x="219.56" y="470.35" width="4.6" height="0.60" fill="#ffcdd2"/><rect x="225.04" y="470.03" width="4.6" height="0.60" fill="#26a69a"/><rect x="230.52" y="468.96" width="4.6" height="1.39" fill="#26a69a"/><rect x="236.00" y="469.06" width="4.6" height="1.29" fill="#b2dfdb"/><rect x="241.48" y="464.76" width="4.6" height="5.59" fill="#26a69a"/><rect x="246.97" y="461.89" width="4.6" height="8.46" fill="#26a69a"/><rect x="252.45" y="461.02" width="4.6" height="9.33" fill="#26a69a"/><rect x="257.93" y="460.31" width="4.6" height="10.04" fill="#26a69a"/><rect x="263.41" y="458.20" width="4.6" height="12.15" fill="#26a69a"/><rect x="268.89" y="457.37" width="4.6" height="12.98" fill="#26a69a"/><rect x="274.38" y="459.08" width="4.6" height="11.27" fill="#b2dfdb"/><rect x="279.86" y="460.95" width="4.6" height="9.40" fill="#b2dfdb"/><rect x="285.34" y="463.30" width="4.6" height="7.05" fill="#b2dfdb"/><rect x="290.82" y="466.09" width="4.6" height="4.26" fill="#b2dfdb"/><rect x="296.30" y="468.39" width="4.6" height="1.96" fill="#b2dfdb"/><rect x="301.79" y="468.87" width="4.6" height="1.48" fill="#b2dfdb"/><rect x="307.27" y="468.65" width="4.6" height="1.70" fill="#26a69a"/><rect x="312.75" y="468.98" width="4.6" height="1.37" fill="#b2dfdb"/><rect x="318.23" y="470.35" width="4.6" height="0.62" fill="#ff5252"/><rect x="323.71" y="470.35" width="4.6" height="2.28" fill="#ff5252"/><rect x="329.20" y="470.35" width="4.6" height="1.53" fill="#ffcdd2"/><rect x="334.68" y="470.35" width="4.6" height="0.60" fill="#ffcdd2"/><rect x="340.16" y="467.74" width="4.6" height="2.61" fill="#26a69a"/><rect x="345.64" y="465.47" width="4.6" height="4.88" fill="#26a69a"/><rect x="351.12" y="464.25" width="4.6" height="6.10" fill="#26a69a"/><rect x="356.61" y="464.99" width="4.6" height="5.36" fill="#b2dfdb"/><rect x="362.09" y="466.30" width="4.6" height="4.05" fill="#b2dfdb"/><rect x="367.57" y="465.16" width="4.6" height="5.19" fill="#26a69a"/><rect x="373.05" y="466.04" width="4.6" height="4.31" fill="#b2dfdb"/><rect x="378.53" y="466.44" width="4.6" height="3.91" fill="#b2dfdb"/><rect x="384.02" y="465.76" width="4.6" height="4.59" fill="#26a69a"/><rect x="389.50" y="466.44" width="4.6" height="3.91" fill="#b2dfdb"/><rect x="394.98" y="469.40" width="4.6" height="0.95" fill="#b2dfdb"/><rect x="400.46" y="470.35" width="4.6" height="1.77" fill="#ff5252"/><rect x="405.94" y="470.35" width="4.6" height="0.60" fill="#ffcdd2"/><rect x="411.43" y="466.07" width="4.6" height="4.28" fill="#26a69a"/><rect x="416.91" y="459.05" width="4.6" height="11.30" fill="#26a69a"/><rect x="422.39" y="455.55" width="4.6" height="14.80" fill="#26a69a"/><rect x="427.87" y="452.78" width="4.6" height="17.57" fill="#26a69a"/><rect x="433.35" y="452.01" width="4.6" height="18.34" fill="#26a69a"/><rect x="438.84" y="450.50" width="4.6" height="19.85" fill="#26a69a"/><rect x="444.32" y="451.70" width="4.6" height="18.65" fill="#b2dfdb"/><rect x="449.80" y="454.81" width="4.6" height="15.54" fill="#b2dfdb"/><rect x="455.28" y="457.09" width="4.6" height="13.26" fill="#b2dfdb"/><rect x="460.76" y="458.47" width="4.6" height="11.88" fill="#b2dfdb"/><rect x="466.25" y="459.62" width="4.6" height="10.73" fill="#b2dfdb"/><rect x="471.73" y="462.47" width="4.6" height="7.88" fill="#b2dfdb"/><rect x="477.21" y="466.67" width="4.6" height="3.68" fill="#b2dfdb"/><rect x="482.69" y="470.35" width="4.6" height="0.60" fill="#ff5252"/><rect x="488.17" y="470.35" width="4.6" height="3.90" fill="#ff5252"/><rect x="493.66" y="470.35" width="4.6" height="6.45" fill="#ff5252"/><rect x="499.14" y="470.35" width="4.6" height="9.25" fill="#ff5252"/><rect x="504.62" y="470.35" width="4.6" height="9.63" fill="#ff5252"/><rect x="510.10" y="470.35" width="4.6" height="9.13" fill="#ffcdd2"/><rect x="515.58" y="470.35" width="4.6" height="8.77" fill="#ffcdd2"/><rect x="521.07" y="470.35" width="4.6" height="9.26" fill="#ff5252"/><rect x="526.55" y="470.35" width="4.6" height="7.70" fill="#ffcdd2"/><rect x="532.03" y="470.35" width="4.6" height="1.08" fill="#ffcdd2"/><rect x="537.51" y="470.06" width="4.6" height="0.60" fill="#26a69a"/><rect x="542.99" y="470.35" width="4.6" height="0.72" fill="#ff5252"/><rect x="548.48" y="470.35" width="4.6" height="0.60" fill="#ffcdd2"/><rect x="553.96" y="470.35" width="4.6" height="0.60" fill="#ff5252"/><rect x="559.44" y="464.23" width="4.6" height="6.12" fill="#26a69a"/><rect x="564.92" y="456.43" width="4.6" height="13.92" fill="#26a69a"/><rect x="570.40" y="452.93" width="4.6" height="17.42" fill="#26a69a"/><rect x="575.89" y="454.02" width="4.6" height="16.33" fill="#b2dfdb"/><rect x="581.37" y="452.59" width="4.6" height="17.76" fill="#26a69a"/><rect x="586.85" y="454.06" width="4.6" height="16.29" fill="#b2dfdb"/><rect x="592.33" y="455.50" width="4.6" height="14.85" fill="#b2dfdb"/><rect x="597.81" y="454.31" width="4.6" height="16.04" fill="#26a69a"/><rect x="603.30" y="457.66" width="4.6" height="12.69" fill="#b2dfdb"/><rect x="608.78" y="463.78" width="4.6" height="6.57" fill="#b2dfdb"/><rect x="614.26" y="466.42" width="4.6" height="3.93" fill="#b2dfdb"/><rect x="619.74" y="469.79" width="4.6" height="0.60" fill="#b2dfdb"/><rect x="625.22" y="470.35" width="4.6" height="0.64" fill="#ff5252"/><rect x="630.71" y="470.35" width="4.6" height="2.95" fill="#ff5252"/><rect x="636.19" y="470.35" width="4.6" height="6.49" fill="#ff5252"/><rect x="641.67" y="470.35" width="4.6" height="10.00" fill="#ff5252"/><rect x="647.15" y="470.35" width="4.6" height="11.88" fill="#ff5252"/><rect x="652.63" y="470.35" width="4.6" height="12.52" fill="#ff5252"/><rect x="658.12" y="470.35" width="4.6" height="11.28" fill="#ffcdd2"/><rect x="663.60" y="470.35" width="4.6" height="12.40" fill="#ff5252"/><rect x="669.08" y="470.35" width="4.6" height="15.04" fill="#ff5252"/><rect x="674.56" y="470.35" width="4.6" height="15.60" fill="#ff5252"/><rect x="680.04" y="470.35" width="4.6" height="20.16" fill="#ff5252"/><rect x="685.53" y="470.35" width="4.6" height="19.29" fill="#ffcdd2"/><rect x="691.01" y="470.35" width="4.6" height="18.44" fill="#ffcdd2"/><rect x="696.49" y="470.35" width="4.6" height="16.94" fill="#ffcdd2"/><rect x="701.97" y="470.35" width="4.6" height="16.04" fill="#ffcdd2"/><rect x="707.45" y="470.35" width="4.6" height="12.52" fill="#ffcdd2"/><rect x="712.94" y="470.35" width="4.6" height="8.73" fill="#ffcdd2"/><rect x="718.42" y="470.35" width="4.6" height="4.80" fill="#ffcdd2"/><rect x="723.90" y="470.35" width="4.6" height="3.55" fill="#ffcdd2"/><rect x="729.38" y="470.35" width="4.6" height="0.60" fill="#ffcdd2"/><rect x="734.86" y="468.44" width="4.6" height="1.91" fill="#26a69a"/><rect x="740.35" y="468.60" width="4.6" height="1.75" fill="#b2dfdb"/><rect x="745.83" y="469.91" width="4.6" height="0.60" fill="#b2dfdb"/><rect x="751.31" y="468.87" width="4.6" height="1.48" fill="#26a69a"/><rect x="756.79" y="468.89" width="4.6" height="1.46" fill="#b2dfdb"/><rect x="762.27" y="466.54" width="4.6" height="3.81" fill="#26a69a"/><rect x="767.76" y="467.37" width="4.6" height="2.98" fill="#b2dfdb"/><rect x="773.24" y="466.85" width="4.6" height="3.50" fill="#26a69a"/><rect x="778.72" y="466.16" width="4.6" height="4.19" fill="#26a69a"/><rect x="784.20" y="467.64" width="4.6" height="2.71" fill="#b2dfdb"/><rect x="789.68" y="468.11" width="4.6" height="2.24" fill="#b2dfdb"/><rect x="795.17" y="468.44" width="4.6" height="1.91" fill="#b2dfdb"/><rect x="800.65" y="467.25" width="4.6" height="3.10" fill="#26a69a"/><rect x="806.13" y="464.27" width="4.6" height="6.08" fill="#26a69a"/><rect x="811.61" y="463.86" width="4.6" height="6.49" fill="#26a69a"/><rect x="817.09" y="463.81" width="4.6" height="6.54" fill="#26a69a"/><rect x="822.58" y="466.49" width="4.6" height="3.86" fill="#b2dfdb"/><rect x="828.06" y="468.69" width="4.6" height="1.66" fill="#b2dfdb"/><rect x="833.54" y="470.08" width="4.6" height="0.60" fill="#b2dfdb"/><rect x="839.02" y="470.35" width="4.6" height="0.60" fill="#ff5252"/><rect x="844.50" y="469.32" width="4.6" height="1.03" fill="#26a69a"/><rect x="849.99" y="467.97" width="4.6" height="2.38" fill="#26a69a"/><rect x="855.47" y="466.28" width="4.6" height="4.07" fill="#26a69a"/><rect x="860.95" y="464.53" width="4.6" height="5.82" fill="#26a69a"/><rect x="866.43" y="463.60" width="4.6" height="6.75" fill="#26a69a"/><rect x="871.91" y="461.74" width="4.6" height="8.61" fill="#26a69a"/><rect x="877.40" y="460.72" width="4.6" height="9.63" fill="#26a69a"/><rect x="882.88" y="461.26" width="4.6" height="9.09" fill="#b2dfdb"/><rect x="888.36" y="463.67" width="4.6" height="6.68" fill="#b2dfdb"/><rect x="893.84" y="465.34" width="4.6" height="5.01" fill="#b2dfdb"/><rect x="899.32" y="468.81" width="4.6" height="1.54" fill="#b2dfdb"/><rect x="904.81" y="470.35" width="4.6" height="0.60" fill="#ff5252"/><rect x="910.29" y="470.35" width="4.6" height="2.26" fill="#ff5252"/><rect x="915.77" y="470.35" width="4.6" height="4.21" fill="#ff5252"/><rect x="921.25" y="470.35" width="4.6" height="5.94" fill="#ff5252"/><rect x="926.73" y="470.35" width="4.6" height="7.65" fill="#ff5252"/><rect x="932.22" y="470.35" width="4.6" height="10.54" fill="#ff5252"/><rect x="937.70" y="470.35" width="4.6" height="10.92" fill="#ff5252"/><rect x="943.18" y="470.35" width="4.6" height="12.27" fill="#ff5252"/><rect x="948.66" y="470.35" width="4.6" height="11.54" fill="#ffcdd2"/><rect x="954.14" y="470.35" width="4.6" height="9.11" fill="#ffcdd2"/><rect x="959.63" y="470.35" width="4.6" height="5.60" fill="#ffcdd2"/><rect x="965.11" y="470.35" width="4.6" height="2.98" fill="#ffcdd2"/><rect x="970.59" y="470.35" width="4.6" height="1.94" fill="#ffcdd2"/><rect x="976.07" y="470.35" width="4.6" height="1.48" fill="#ffcdd2"/><rect x="981.55" y="470.35" width="4.6" height="5.61" fill="#ff5252"/><rect x="987.04" y="470.35" width="4.6" height="9.18" fill="#ff5252"/><rect x="992.52" y="470.35" width="4.6" height="15.05" fill="#ff5252"/><rect x="998.00" y="470.35" width="4.6" height="17.60" fill="#ff5252"/><rect x="1003.48" y="470.35" width="4.6" height="13.77" fill="#ffcdd2"/><rect x="1008.96" y="470.35" width="4.6" height="11.25" fill="#ffcdd2"/><rect x="1014.45" y="470.35" width="4.6" height="8.77" fill="#ffcdd2"/><rect x="1019.93" y="470.35" width="4.6" height="4.54" fill="#ffcdd2"/><rect x="1025.41" y="470.35" width="4.6" height="1.47" fill="#ffcdd2"/><rect x="1030.89" y="470.35" width="4.6" height="0.60" fill="#ffcdd2"/><rect x="1036.37" y="470.34" width="4.6" height="0.60" fill="#26a69a"/><rect x="1041.86" y="468.51" width="4.6" height="1.84" fill="#26a69a"/><rect x="1047.34" y="466.56" width="4.6" height="3.79" fill="#26a69a"/><rect x="1052.82" y="467.17" width="4.6" height="3.18" fill="#b2dfdb"/><rect x="1058.30" y="466.09" width="4.6" height="4.26" fill="#26a69a"/><rect x="1063.78" y="467.02" width="4.6" height="3.33" fill="#b2dfdb"/><rect x="1069.27" y="468.15" width="4.6" height="2.20" fill="#b2dfdb"/><rect x="1074.75" y="468.70" width="4.6" height="1.65" fill="#b2dfdb"/><rect x="1080.23" y="470.35" width="4.6" height="0.60" fill="#ff5252"/><rect x="1085.71" y="468.75" width="4.6" height="1.60" fill="#26a69a"/><rect x="1091.19" y="470.35" width="4.6" height="0.60" fill="#ff5252"/><rect x="1096.68" y="470.35" width="4.6" height="0.60" fill="#ff5252"/><rect x="1102.16" y="470.35" width="4.6" height="0.90" fill="#ff5252"/><rect x="1107.64" y="470.11" width="4.6" height="0.60" fill="#26a69a"/><rect x="1113.12" y="469.39" width="4.6" height="0.96" fill="#26a69a"/><rect x="1118.60" y="468.35" width="4.6" height="2.00" fill="#26a69a"/><rect x="1124.09" y="469.95" width="4.6" height="0.60" fill="#b2dfdb"/><rect x="1129.57" y="470.30" width="4.6" height="0.60" fill="#b2dfdb"/><rect x="1135.05" y="470.35" width="4.6" height="0.60" fill="#ff5252"/><polyline points="8.6,504.2 14.0,505.4 19.5,506.5 25.0,507.9 30.5,509.7 36.0,511.0 41.4,512.0 46.9,512.0 52.4,511.4 57.9,510.2 63.4,509.2 68.9,508.1 74.3,507.0 79.8,505.2 85.3,503.3 90.8,501.4 96.3,499.6 101.8,498.3 107.2,497.4 112.7,496.5 118.2,495.5 123.7,494.6 129.2,494.7 134.6,495.3 140.1,495.7 145.6,496.0 151.1,496.3 156.6,496.3 162.1,496.1 167.5,495.7 173.0,495.6 178.5,496.3 184.0,497.0 189.5,497.0 194.9,497.0 200.4,497.0 205.9,497.0 211.4,497.5 216.9,498.1 222.4,498.2 227.8,498.1 233.3,497.7 238.8,497.4 244.3,496.0 249.8,493.9 255.2,491.6 260.7,489.1 266.2,486.0 271.7,482.8 277.2,479.9 282.7,477.6 288.1,475.8 293.6,474.8 299.1,474.3 304.6,473.9 310.1,473.5 315.6,473.1 321.0,473.3 326.5,473.9 332.0,474.2 337.5,474.3 343.0,473.7 348.4,472.5 353.9,470.9 359.4,469.6 364.9,468.6 370.4,467.3 375.9,466.2 381.3,465.2 386.8,464.1 392.3,463.1 397.8,462.9 403.3,463.3 408.7,463.4 414.2,462.3 419.7,459.5 425.2,455.8 430.7,451.4 436.2,446.8 441.6,441.9 447.1,437.2 452.6,433.3 458.1,430.0 463.6,427.1 469.0,424.4 474.5,422.4 480.0,421.5 485.5,421.6 491.0,422.6 496.5,424.2 501.9,426.5 507.4,428.9 512.9,431.2 518.4,433.4 523.9,435.7 529.3,437.6 534.8,437.9 540.3,437.8 545.8,438.0 551.3,438.1 556.8,438.2 562.2,436.7 567.7,433.2 573.2,428.8 578.7,424.7 584.2,420.3 589.7,416.2 595.1,412.5 600.6,408.5 606.1,405.3 611.6,403.7 617.1,402.7 622.5,402.6 628.0,402.7 633.5,403.5 639.0,405.1 644.5,407.6 650.0,410.6 655.4,413.7 660.9,416.5 666.4,419.6 671.9,423.4 677.4,427.3 682.8,432.3 688.3,437.1 693.8,441.7 699.3,446.0 704.8,450.0 710.3,453.1 715.7,455.3 721.2,456.5 726.7,457.4 732.2,457.5 737.7,457.0 743.1,456.6 748.6,456.5 754.1,456.1 759.6,455.8 765.1,454.8 770.6,454.1 776.0,453.2 781.5,452.1 787.0,451.5 792.5,450.9 798.0,450.4 803.4,449.6 808.9,448.1 814.4,446.5 819.9,444.9 825.4,443.9 830.9,443.5 836.3,443.4 841.8,443.4 847.3,443.2 852.8,442.6 858.3,441.6 863.8,440.1 869.2,438.4 874.7,436.3 880.2,433.9 885.7,431.6 891.2,429.9 896.6,428.7 902.1,428.3 907.6,428.4 913.1,429.0 918.6,430.0 924.1,431.5 929.5,433.4 935.0,436.1 940.5,438.8 946.0,441.9 951.5,444.7 956.9,447.0 962.4,448.4 967.9,449.2 973.4,449.6 978.9,450.0 984.4,451.4 989.8,453.7 995.3,457.5 1000.8,461.9 1006.3,465.3 1011.8,468.1 1017.2,470.3 1022.7,471.5 1028.2,471.8 1033.7,471.9 1039.2,471.9 1044.7,471.4 1050.1,470.5 1055.6,469.7 1061.1,468.6 1066.6,467.8 1072.1,467.2 1077.5,466.8 1083.0,466.9 1088.5,466.5 1094.0,466.5 1099.5,466.6 1105.0,466.8 1110.4,466.8 1115.9,466.5 1121.4,466.0 1126.9,465.9 1132.4,465.9 1137.8,466.0" fill="none" stroke="#f29a3a" stroke-width="1"/><polyline points="8.6,510.8 14.0,510.1 19.5,510.9 25.0,513.5 30.5,517.0 36.0,516.4 41.4,515.7 46.9,511.9 52.4,509.1 57.9,505.4 63.4,505.1 68.9,503.9 74.3,502.3 79.8,498.3 85.3,495.7 90.8,493.7 96.3,492.7 101.8,492.8 107.2,493.7 112.7,493.0 118.2,491.6 123.7,491.0 129.2,495.2 134.6,497.8 140.1,497.2 145.6,497.3 151.1,497.5 156.6,496.3 162.1,495.0 167.5,494.4 173.0,495.3 178.5,498.9 184.0,499.7 189.5,497.3 194.9,496.8 200.4,496.9 205.9,497.3 211.4,499.3 216.9,500.3 222.4,498.6 227.8,497.8 233.3,496.3 238.8,496.1 244.3,490.4 249.8,485.4 255.2,482.2 260.7,479.0 266.2,473.9 271.7,469.8 277.2,468.7 282.7,468.2 288.1,468.8 293.6,470.5 299.1,472.3 304.6,472.4 310.1,471.8 315.6,471.8 321.0,473.9 326.5,476.1 332.0,475.8 337.5,474.8 343.0,471.1 348.4,467.6 353.9,464.8 359.4,464.3 364.9,464.6 370.4,462.1 375.9,461.9 381.3,461.3 386.8,459.5 392.3,459.2 397.8,461.9 403.3,465.1 408.7,463.8 414.2,458.1 419.7,448.2 425.2,441.0 430.7,433.9 436.2,428.5 441.6,422.0 447.1,418.6 452.6,417.8 458.1,416.8 463.6,415.2 469.0,413.6 474.5,414.5 480.0,417.8 485.5,422.2 491.0,426.5 496.5,430.7 501.9,435.8 507.4,438.6 512.9,440.3 518.4,442.2 523.9,445.0 529.3,445.3 534.8,439.0 540.3,437.6 545.8,438.7 551.3,438.4 556.8,438.6 562.2,430.5 567.7,419.3 573.2,411.4 578.7,408.4 584.2,402.6 589.7,400.0 595.1,397.7 600.6,392.5 606.1,392.6 611.6,397.1 617.1,398.8 622.5,402.0 628.0,403.4 633.5,406.4 639.0,411.6 644.5,417.6 650.0,422.4 655.4,426.2 660.9,427.8 666.4,432.0 671.9,438.4 677.4,442.9 682.8,452.5 688.3,456.4 693.8,460.2 699.3,462.9 704.8,466.0 710.3,465.6 715.7,464.0 721.2,461.3 726.7,460.9 732.2,458.0 737.7,455.1 743.1,454.9 748.6,456.1 754.1,454.6 759.6,454.3 765.1,451.0 770.6,451.1 776.0,449.7 781.5,447.9 787.0,448.7 792.5,448.7 798.0,448.5 803.4,446.5 808.9,442.0 814.4,440.0 819.9,438.3 825.4,440.0 830.9,441.8 836.3,443.1 841.8,443.5 847.3,442.1 852.8,440.2 858.3,437.5 863.8,434.3 869.2,431.7 874.7,427.7 880.2,424.2 885.7,422.5 891.2,423.2 896.6,423.7 902.1,426.7 907.6,428.9 913.1,431.2 918.6,434.2 924.1,437.4 929.5,441.1 935.0,446.6 940.5,449.7 946.0,454.1 951.5,456.3 956.9,456.1 962.4,454.0 967.9,452.1 973.4,451.6 978.9,451.5 984.4,457.0 989.8,462.9 995.3,472.5 1000.8,479.5 1006.3,479.1 1011.8,479.4 1017.2,479.1 1022.7,476.0 1028.2,473.3 1033.7,472.1 1039.2,471.9 1044.7,469.6 1050.1,466.7 1055.6,466.5 1061.1,464.3 1066.6,464.4 1072.1,465.0 1077.5,465.2 1083.0,467.1 1088.5,464.9 1094.0,466.5 1099.5,467.1 1105.0,467.7 1110.4,466.5 1115.9,465.6 1121.4,464.0 1126.9,465.5 1132.4,465.9 1137.8,466.2" fill="none" stroke="#3d5fd6" stroke-width="1"/><line x1="1138" y1="470.4" x2="1195" y2="470.4" stroke="#c9cbd2" stroke-width="1" stroke-dasharray="4 4"/></g>
<g clip-path="url(#cr)"><rect x="9" y="562.5" width="1186" height="102.2" fill="#f0edf9"/><line x1="9" y1="562.5" x2="1195" y2="562.5" stroke="#787b86" stroke-width="1" stroke-dasharray="4.5 5.5" stroke-dashoffset="-2"/><line x1="9" y1="613.6" x2="1195" y2="613.6" stroke="#b4b5bd" stroke-width="1" stroke-dasharray="4.5 5.5" stroke-dashoffset="-2"/><line x1="9" y1="664.7" x2="1195" y2="664.7" stroke="#787b86" stroke-width="1" stroke-dasharray="4.5 5.5" stroke-dashoffset="-2"/><polygon points="419.0,562.5 419.7,560.3 425.2,562.0 430.7,556.7 436.2,556.2 441.6,548.6 447.1,556.9 450.2,562.5" fill="#e3f2ec"/><polygon points="459.3,562.5 463.6,558.9 469.0,555.9 472.1,562.5" fill="#e3f2ec"/><polygon points="534.2,562.5 534.8,559.1 535.6,562.5" fill="#e3f2ec"/><polygon points="561.6,562.5 562.2,559.4 567.7,547.8 573.2,550.2 577.8,562.5" fill="#e3f2ec"/><polygon points="580.0,562.5 584.2,555.1 589.7,562.0 595.1,559.5 600.6,550.2 604.2,562.5" fill="#e3f2ec"/><polygon points="864.9,562.5 869.2,561.0 874.7,552.4 880.2,549.9 885.7,554.2 888.8,562.5" fill="#e3f2ec"/><polygon points="24.0,664.7 25.0,666.0 30.5,672.3 32.2,664.7" fill="#fbe5e8"/><polyline points="8.6,644.2 14.0,646.3 19.5,648.7 25.0,651.3 30.5,654.1 36.0,654.9 41.4,655.6 46.9,654.9 52.4,654.1 57.9,652.6 63.4,651.8 68.9,650.4 74.3,648.7 79.8,645.7 85.3,644.1 90.8,642.4 96.3,640.5 101.8,638.6 107.2,636.6 112.7,635.7 118.2,634.3 123.7,634.4 129.2,635.9 134.6,637.7 140.1,637.4 145.6,637.5 151.1,638.0 156.6,638.9 162.1,639.4 167.5,640.2 173.0,641.3 178.5,643.0 184.0,643.3 189.5,642.7 194.9,643.2 200.4,643.5 205.9,642.5 211.4,642.3 216.9,643.3 222.4,642.8 227.8,642.4 233.3,642.3 238.8,642.7 244.3,640.3 249.8,637.1 255.2,633.2 260.7,630.2 266.2,627.6 271.7,624.3 277.2,621.9 282.7,619.4 288.1,616.8 293.6,614.9 299.1,614.5 304.6,613.0 310.1,611.4 315.6,609.6 321.0,611.5 326.5,613.7 332.0,614.4 337.5,614.9 343.0,615.1 348.4,615.0 353.9,613.7 359.4,613.3 364.9,612.8 370.4,610.3 375.9,608.6 381.3,607.3 386.8,605.8 392.3,604.6 397.8,603.8 403.3,603.2 408.7,602.0 414.2,599.5 419.7,597.1 425.2,595.2 430.7,592.8 436.2,589.5 441.6,585.2 447.1,582.8 452.6,580.2 458.1,577.6 463.6,575.4 469.0,572.3 474.5,568.5 480.0,565.4 485.5,564.7 491.0,565.8 496.5,568.3 501.9,571.5 507.4,574.3 512.9,576.9 518.4,580.0 523.9,583.2 529.3,584.7 534.8,584.4 540.3,586.0 545.8,588.7 551.3,590.1 556.8,590.5 562.2,588.2 567.7,584.9 573.2,581.7 578.7,578.7 584.2,575.8 589.7,573.6 595.1,571.3 600.6,567.6 606.1,566.2 611.6,568.1 617.1,567.8 622.5,567.1 628.0,566.5 633.5,566.2 639.0,568.6 644.5,572.4 650.0,575.8 655.4,578.0 660.9,580.4 666.4,583.2 671.9,587.2 677.4,591.5 682.8,596.2 688.3,598.4 693.8,601.4 699.3,603.9 704.8,607.0 710.3,608.8 715.7,609.4 721.2,609.1 726.7,609.6 732.2,609.4 737.7,609.6 743.1,609.5 748.6,608.9 754.1,607.9 759.6,605.4 765.1,603.1 770.6,601.7 776.0,599.9 781.5,597.5 787.0,596.9 792.5,596.4 798.0,596.3 803.4,594.8 808.9,593.3 814.4,592.6 819.9,591.0 825.4,590.3 830.9,590.3 836.3,590.0 841.8,590.3 847.3,588.9 852.8,587.7 858.3,586.2 863.8,583.6 869.2,581.1 874.7,578.1 880.2,575.6 885.7,574.3 891.2,573.5 896.6,572.6 902.1,571.9 907.6,570.8 913.1,570.0 918.6,570.0 924.1,570.9 929.5,572.8 935.0,576.4 940.5,579.7 946.0,584.0 951.5,588.1 956.9,591.5 962.4,593.7 967.9,594.7 973.4,596.3 978.9,596.6 984.4,600.0 989.8,603.8 995.3,608.6 1000.8,612.8 1006.3,614.1 1011.8,614.2 1017.2,615.0 1022.7,613.8 1028.2,613.3 1033.7,614.2 1039.2,616.3 1044.7,617.6 1050.1,618.1 1055.6,619.5 1061.1,617.3 1066.6,615.4 1072.1,612.1 1077.5,608.9 1083.0,609.1 1088.5,607.5 1094.0,607.3 1099.5,607.9 1105.0,608.7 1110.4,608.3 1115.9,607.7 1121.4,607.5 1126.9,608.9 1132.4,609.0 1137.8,610.0" fill="none" stroke="#f4d98a" stroke-width="1.5"/><polyline points="8.6,649.3 14.0,652.0 19.5,659.0 25.0,666.0 30.5,672.3 36.0,648.6 41.4,649.9 46.9,633.7 52.4,636.1 57.9,630.4 63.4,642.4 68.9,639.1 74.3,637.9 79.8,622.5 85.3,626.8 90.8,628.8 96.3,633.0 101.8,638.9 107.2,644.0 112.7,635.6 118.2,630.4 123.7,635.4 129.2,657.9 134.6,655.5 140.1,637.3 145.6,641.6 151.1,643.5 156.6,635.4 162.1,634.9 167.5,639.0 173.0,648.1 178.5,663.3 184.0,648.2 189.5,627.6 194.9,636.6 200.4,640.4 205.9,643.9 211.4,652.9 216.9,651.2 222.4,633.4 227.8,638.0 233.3,634.3 238.8,641.2 244.3,605.0 249.8,603.4 255.2,609.2 260.7,605.6 266.2,591.0 271.7,591.0 277.2,606.6 282.7,609.3 288.1,616.1 293.6,624.5 299.1,627.5 304.6,617.2 310.1,611.7 315.6,615.8 321.0,631.5 326.5,635.4 332.0,617.9 337.5,612.7 343.0,593.4 348.4,589.8 353.9,589.5 359.4,603.0 364.9,608.8 370.4,590.0 375.9,603.4 381.3,600.0 386.8,590.4 392.3,599.1 397.8,620.3 403.3,626.3 408.7,600.8 414.2,578.3 419.7,560.3 425.2,562.0 430.7,556.7 436.2,556.2 441.6,548.6 447.1,556.9 452.6,567.0 458.1,563.5 463.6,558.9 469.0,555.9 474.5,567.8 480.0,582.6 485.5,591.3 491.0,593.5 496.5,595.7 501.9,606.0 507.4,596.3 512.9,591.9 518.4,592.7 523.9,601.4 529.3,588.4 534.8,559.1 540.3,581.7 545.8,593.6 551.3,586.7 556.8,588.0 562.2,559.4 567.7,547.8 573.2,550.2 578.7,564.9 584.2,555.1 589.7,562.0 595.1,559.5 600.6,550.2 606.1,568.7 611.6,585.6 617.1,578.0 622.5,583.4 628.0,577.8 633.5,583.9 639.0,593.9 644.5,599.9 650.0,598.1 655.4,595.8 660.9,588.5 666.4,601.8 671.9,614.6 677.4,610.5 682.8,634.4 688.3,617.5 693.8,619.5 699.3,618.0 704.8,621.9 710.3,608.4 715.7,602.5 721.2,596.1 726.7,604.9 732.2,593.2 737.7,590.5 743.1,600.6 748.6,607.2 754.1,595.8 759.6,599.2 765.1,585.7 770.6,599.5 776.0,592.5 781.5,588.9 787.0,600.0 792.5,595.7 798.0,594.2 803.4,584.8 808.9,572.3 814.4,580.3 819.9,578.5 825.4,596.2 830.9,596.8 836.3,594.7 841.8,589.7 847.3,580.3 852.8,575.0 858.3,568.6 863.8,562.9 869.2,561.0 874.7,552.4 880.2,549.9 885.7,554.2 891.2,568.9 896.6,565.9 902.1,585.7 907.6,581.6 913.1,583.2 918.6,589.9 924.1,594.0 929.5,600.7 935.0,619.7 940.5,608.5 946.0,621.2 951.5,610.3 956.9,597.0 962.4,584.9 967.9,582.8 973.4,589.0 978.9,590.2 984.4,628.7 989.8,636.1 995.3,657.4 1000.8,653.2 1006.3,618.2 1011.8,621.4 1017.2,619.2 1022.7,604.7 1028.2,603.7 1033.7,609.2 1039.2,613.7 1044.7,602.0 1050.1,596.1 1055.6,609.2 1061.1,598.3 1066.6,608.8 1072.1,611.4 1077.5,609.2 1083.0,620.4 1088.5,598.5 1094.0,617.3 1099.5,613.4 1105.0,614.2 1110.4,604.4 1115.9,604.0 1121.4,599.1 1126.9,616.5 1132.4,610.9 1137.8,611.2" fill="none" stroke="#7a5cc0" stroke-width="1.2"/></g>
<rect x="8.5" y="24.5" width="1245.5" height="687.5" fill="none" stroke="#e8e9ec" stroke-width="1"/>
<line x1="9" y1="375.5" x2="1254" y2="375.5" stroke="#e8e9ec" stroke-width="1"/>
<line x1="9" y1="531.5" x2="1254" y2="531.5" stroke="#e8e9ec" stroke-width="1"/>
<text x="1203.5" y="346.5" font-size="11.5" fill="#131722" textLength="37.2" lengthAdjust="spacingAndGlyphs">1.02000</text><text x="1203.5" y="311.8" font-size="11.5" fill="#131722" textLength="37.2" lengthAdjust="spacingAndGlyphs">1.04000</text><text x="1203.5" y="277.1" font-size="11.5" fill="#131722" textLength="37.2" lengthAdjust="spacingAndGlyphs">1.06000</text><text x="1203.5" y="242.5" font-size="11.5" fill="#131722" textLength="37.2" lengthAdjust="spacingAndGlyphs">1.08000</text><text x="1203.5" y="207.8" font-size="11.5" fill="#131722" textLength="37.2" lengthAdjust="spacingAndGlyphs">1.10000</text><text x="1203.5" y="173.1" font-size="11.5" fill="#131722" textLength="37.2" lengthAdjust="spacingAndGlyphs">1.12000</text><text x="1203.5" y="138.4" font-size="11.5" fill="#131722" textLength="37.2" lengthAdjust="spacingAndGlyphs">1.14000</text><text x="1203.5" y="103.7" font-size="11.5" fill="#131722" textLength="37.2" lengthAdjust="spacingAndGlyphs">1.16000</text><text x="1203.5" y="69.1" font-size="11.5" fill="#131722" textLength="37.2" lengthAdjust="spacingAndGlyphs">1.18000</text><text x="1203.5" y="34.4" font-size="11.5" fill="#131722" textLength="37.2" lengthAdjust="spacingAndGlyphs">1.20000</text><text x="1203.1" y="387.9" font-size="11.5" fill="#131722" textLength="37.6" lengthAdjust="spacingAndGlyphs">0.02000</text><text x="1203.1" y="430.7" font-size="11.5" fill="#131722" textLength="37.6" lengthAdjust="spacingAndGlyphs">0.01000</text><text x="1203.2" y="517.5" font-size="11.5" fill="#131722" textLength="43.4" lengthAdjust="spacingAndGlyphs">−0.01000</text><text x="1203.2" y="541.7" font-size="11.5" fill="#131722" textLength="26.8" lengthAdjust="spacingAndGlyphs">80.00</text><text x="1203.2" y="592.8" font-size="11.5" fill="#131722" textLength="26.8" lengthAdjust="spacingAndGlyphs">60.00</text><text x="1203.2" y="643.9" font-size="11.5" fill="#131722" textLength="26.8" lengthAdjust="spacingAndGlyphs">40.00</text><text x="62.0" y="703.4" font-size="11" fill="#131722" text-anchor="middle">Dec</text><text x="177.7" y="703.4" font-size="11" font-weight="bold" fill="#131722" text-anchor="middle">2025</text><text x="298.0" y="703.4" font-size="11" fill="#131722" text-anchor="middle">Feb</text><text x="407.8" y="703.4" font-size="11" fill="#131722" text-anchor="middle">Mar</text><text x="522.8" y="703.4" font-size="11" fill="#131722" text-anchor="middle">Apr</text><text x="644.0" y="703.4" font-size="11" fill="#131722" text-anchor="middle">May</text><text x="764.4" y="703.4" font-size="11" fill="#131722" text-anchor="middle">Jun</text><text x="880.0" y="703.4" font-size="11" fill="#131722" text-anchor="middle">Jul</text><text x="1006.0" y="703.4" font-size="11" fill="#131722" text-anchor="middle">Aug</text><text x="1120.5" y="703.4" font-size="11" fill="#131722" text-anchor="middle">Sep</text>
<path d="M1196.0 52.3 H1242.6 Q1244.8 52.3 1244.8 54.5 V65.2 Q1244.8 67.4 1242.6 67.4 H1196.0 Z" fill="#2962ff"/><text x="1203.8" y="63.9" font-size="11.5" fill="#ffffff" textLength="37" lengthAdjust="spacingAndGlyphs">1.18343</text>
<rect x="1149" y="82.8" width="45.7" height="14.8" rx="2" fill="#ee5253"/><text x="1152.2" y="94.3" font-size="11.5" fill="#fff" textLength="39.4" lengthAdjust="spacingAndGlyphs">EURUSD</text>
<path d="M1196.3 82.8 H1246.4 Q1248.6 82.8 1248.6 85.0 V108.3 Q1248.6 110.5 1246.4 110.5 H1196.3 Z" fill="#ee5253"/><text x="1203.7" y="94.4" font-size="11.5" fill="#fff" textLength="36.8" lengthAdjust="spacingAndGlyphs">1.16582</text><text x="1202.8" y="107.2" font-size="11.5" fill="#fff" textLength="41.5" lengthAdjust="spacingAndGlyphs">23:53:54</text>
<path d="M1196.3 111.8 H1242.5 Q1244.7 111.8 1244.7 114.0 V124.2 Q1244.7 126.4 1242.5 126.4 H1196.3 Z" fill="#2962ff"/><text x="1204.2" y="123.2" font-size="11.5" fill="#ffffff" textLength="37" lengthAdjust="spacingAndGlyphs">1.16305</text>
<path d="M1196.3 128.4 H1242.5 Q1244.7 128.4 1244.7 130.6 V141.0 Q1244.7 143.2 1242.5 143.2 H1196.3 Z" fill="#2962ff"/><text x="1204.2" y="139.9" font-size="11.5" fill="#ffffff" textLength="37" lengthAdjust="spacingAndGlyphs">1.13955</text>
<path d="M1196.2 431.5 H1242.3 Q1244.5 431.5 1244.5 433.7 V444.3 Q1244.5 446.5 1242.3 446.5 H1196.2 Z" fill="#f57c00"/><text x="1203.6" y="443.1" font-size="11.5" fill="#ffffff" textLength="37" lengthAdjust="spacingAndGlyphs">0.00101</text>
<path d="M1196.2 446.8 H1242.3 Q1244.5 446.8 1244.5 449.0 V459.8 Q1244.5 462.0 1242.3 462.0 H1196.2 Z" fill="#2962ff"/><text x="1203.6" y="458.5" font-size="11.5" fill="#ffffff" textLength="37" lengthAdjust="spacingAndGlyphs">0.00093</text>
<path d="M1196.2 462.3 H1248.3 Q1250.5 462.3 1250.5 464.5 V475.3 Q1250.5 477.5 1248.3 477.5 H1196.2 Z" fill="#ef5350"/><text x="1203.6" y="474.0" font-size="11.5" fill="#ffffff" textLength="42.7" lengthAdjust="spacingAndGlyphs">−0.00007</text>
<path d="M1196.4 588.2 H1232.0 Q1234.2 588.2 1234.2 590.4 V601.0 Q1234.2 603.2 1232.0 603.2 H1196.4 Z" fill="#f9c62b"/><text x="1203.6" y="599.8" font-size="11.5" fill="#131722" textLength="26.6" lengthAdjust="spacingAndGlyphs">51.46</text>
<path d="M1196.4 603.9 H1232.0 Q1234.2 603.9 1234.2 606.1 V617.3 Q1234.2 619.5 1232.0 619.5 H1196.4 Z" fill="#7e57c2"/><text x="1203.6" y="615.8" font-size="11.5" fill="#ffffff" textLength="26.6" lengthAdjust="spacingAndGlyphs">50.78</text>
<text x="9.6" y="17.5" font-size="12" fill="#222" stroke="#222" stroke-width="0.35" textLength="346" lengthAdjust="spacingAndGlyphs">forexonline1 created with TradingView.com, Sep 03, 2025 21:06 UTC</text>
<text x="17" y="42.4" font-size="11.5" fill="#131722" stroke="#131722" stroke-width="0.18" textLength="99.4" lengthAdjust="spacingAndGlyphs">EURUSD · 1D · FXCM</text>
<text x="125" y="42.4" font-size="11.5" fill="#131722" stroke="#131722" stroke-width="0.18" textLength="8" lengthAdjust="spacingAndGlyphs">O</text>
<text x="134.4" y="42.4" font-size="11.5" fill="#d95552" stroke="#d95552" stroke-width="0.18" textLength="36" lengthAdjust="spacingAndGlyphs">1.16610</text>
<text x="178.4" y="42.4" font-size="11.5" fill="#131722" stroke="#131722" stroke-width="0.18" textLength="7" lengthAdjust="spacingAndGlyphs">H</text>
<text x="186.2" y="42.4" font-size="11.5" fill="#d95552" stroke="#d95552" stroke-width="0.18" textLength="36" lengthAdjust="spacingAndGlyphs">1.16617</text>
<text x="229.5" y="42.4" font-size="11.5" fill="#131722" stroke="#131722" stroke-width="0.18" textLength="6" lengthAdjust="spacingAndGlyphs">L</text>
<text x="236.5" y="42.4" font-size="11.5" fill="#d95552" stroke="#d95552" stroke-width="0.18" textLength="36" lengthAdjust="spacingAndGlyphs">1.16574</text>
<text x="280.3" y="42.4" font-size="11.5" fill="#131722" stroke="#131722" stroke-width="0.18" textLength="6.5" lengthAdjust="spacingAndGlyphs">C</text>
<text x="286.6" y="42.4" font-size="11.5" fill="#d95552" stroke="#d95552" stroke-width="0.18" textLength="36" lengthAdjust="spacingAndGlyphs">1.16582</text>
<text x="330.9" y="42.4" font-size="11.5" fill="#d95552" stroke="#d95552" stroke-width="0.18" textLength="86.5" lengthAdjust="spacingAndGlyphs">−0.00027 (−0.02%)</text>
<text x="424.3" y="42.4" font-size="11.5" fill="#131722" stroke="#131722" stroke-width="0.18" textLength="15.2" lengthAdjust="spacingAndGlyphs">Vol</text>
<text x="439.6" y="42.4" font-size="11.5" fill="#d95552" stroke="#d95552" stroke-width="0.18" textLength="10.6" lengthAdjust="spacingAndGlyphs">61</text>
<text x="16.6" y="393.7" font-size="11.5" fill="#131722" stroke="#131722" stroke-width="0.18" textLength="102" lengthAdjust="spacingAndGlyphs">MACD (12, 26, close)</text>
<text x="128.3" y="393.7" font-size="11.5" fill="#e86a66" stroke="#e86a66" stroke-width="0.18" textLength="41.5" lengthAdjust="spacingAndGlyphs">−0.00007</text>
<text x="177.7" y="393.7" font-size="11.5" fill="#4c6fd8" stroke="#4c6fd8" stroke-width="0.18" textLength="36.8" lengthAdjust="spacingAndGlyphs">0.00093</text>
<text x="222" y="393.7" font-size="11.5" fill="#f0a04c" stroke="#f0a04c" stroke-width="0.18" textLength="36.4" lengthAdjust="spacingAndGlyphs">0.00101</text>
<text x="16.6" y="550" font-size="11.5" fill="#131722" stroke="#131722" stroke-width="0.18" textLength="71.3" lengthAdjust="spacingAndGlyphs">RSI (14, close)</text>
<text x="95.7" y="550" font-size="11.5" fill="#8a76c6" stroke="#8a76c6" stroke-width="0.18" textLength="25.4" lengthAdjust="spacingAndGlyphs">50.78</text>
<text x="129" y="550" font-size="11.5" fill="#f2d66e" stroke="#f2d66e" stroke-width="0.18" textLength="25.4" lengthAdjust="spacingAndGlyphs">51.46</text>
<g fill="#131722"><path d="M11.2 733 H21.9 V746.7 H16.9 V737.7 H11.2 Z"/><circle cx="26.9" cy="735.6" r="2.6"/><path d="M33.3 733 H38.3 L33 746.7 H27.3 Z"/></g>
<text font-weight="bold" x="45.0" y="746.7" font-size="19.8" fill="#131722" stroke="#131722" stroke-width="0.45" textLength="112" lengthAdjust="spacingAndGlyphs">TradingView</text>
<g><circle cx="1138.1" cy="340.3" r="8.6" fill="#fff" stroke="#8546a8" stroke-width="1.5"/><path d="M1140.4 335.8 L1135.4 340.9 L1140.9 339.9 L1135.6 345" fill="none" stroke="#8546a8" stroke-width="1.6" stroke-linejoin="round"/><circle cx="1144.4" cy="334.1" r="3.4" fill="#fff"/><circle cx="1144.4" cy="334.1" r="2.5" fill="#e0303c"/></g>
<circle cx="1148.0" cy="363" r="8.8" fill="#fff" stroke="#c9506a" stroke-width="1.1"/><circle cx="1148.0" cy="363" r="7.4" fill="none" stroke="#f6b3bd" stroke-width="1.6"/><clipPath id="f0"><circle cx="1148.0" cy="363" r="6.6"/></clipPath><g clip-path="url(#f0)"><rect x="1141.0" y="356" width="14" height="14" fill="#fff"/><rect x="1149.0" y="356" width="6" height="14" fill="#2b3f96"/></g><circle cx="1142.4" cy="363" r="8.8" fill="#fff" stroke="#c9506a" stroke-width="1.1"/><circle cx="1142.4" cy="363" r="7.4" fill="none" stroke="#f6b3bd" stroke-width="1.6"/><clipPath id="f1"><circle cx="1142.4" cy="363" r="6.6"/></clipPath><g clip-path="url(#f1)"><rect x="1135.4" y="356" width="14" height="14" fill="#fff"/><rect x="1135.4" y="361.2" width="14" height="3.5" fill="#d94a4a"/><rect x="1135.4" y="367.2" width="14" height="2" fill="#e06060"/><rect x="1135.4" y="356" width="8.8" height="8.7" fill="#3a78d8"/></g><circle cx="1136.9" cy="363" r="8.8" fill="#fff" stroke="#c9506a" stroke-width="1.1"/><circle cx="1136.9" cy="363" r="7.4" fill="none" stroke="#f6b3bd" stroke-width="1.6"/><clipPath id="f2"><circle cx="1136.9" cy="363" r="6.6"/></clipPath><g clip-path="url(#f2)"><rect x="1129.9" y="356" width="14" height="14" fill="#fff"/><rect x="1129.9" y="361.2" width="14" height="3.5" fill="#d94a4a"/><rect x="1129.9" y="367.2" width="14" height="2" fill="#e06060"/><rect x="1129.9" y="356" width="8.8" height="8.7" fill="#3a78d8"/></g><circle cx="1131.3" cy="363" r="8.8" fill="#fff" stroke="#c9506a" stroke-width="1.1"/><circle cx="1131.3" cy="363" r="7.4" fill="none" stroke="#f6b3bd" stroke-width="1.6"/><clipPath id="f3"><circle cx="1131.3" cy="363" r="6.6"/></clipPath><g clip-path="url(#f3)"><rect x="1124.3" y="356" width="14" height="14" fill="#fff"/><rect x="1124.3" y="361.2" width="14" height="3.5" fill="#d94a4a"/><rect x="1124.3" y="367.2" width="14" height="2" fill="#e06060"/><rect x="1124.3" y="356" width="8.8" height="8.7" fill="#3a78d8"/></g>
</body></html>
